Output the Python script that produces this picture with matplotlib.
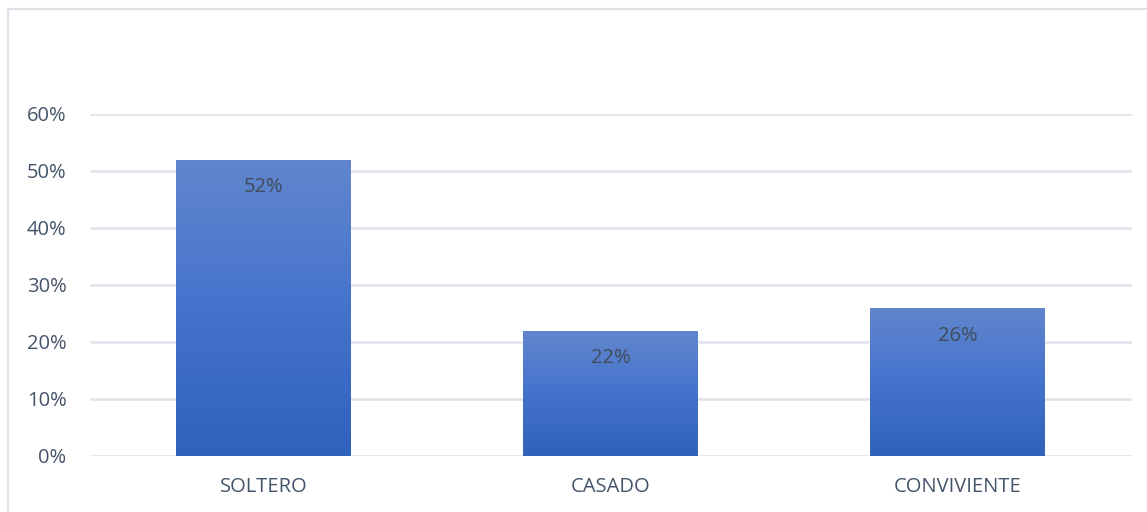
import numpy as np
import matplotlib
matplotlib.use("Agg")
import matplotlib.pyplot as plt
from matplotlib.colors import LinearSegmentedColormap
from matplotlib.patches import Rectangle

plt.rcParams['font.family'] = ['Open Sans', 'DejaVu Sans']

categories = ["SOLTERO", "CASADO", "CONVIVIENTE"]
values = [0.52, 0.22, 0.26]
labels = ["52%", "22%", "26%"]
yticks = [0.0, 0.1, 0.2, 0.3, 0.4, 0.5, 0.6]
ytick_labels = ["0%", "10%", "20%", "30%", "40%", "50%", "60%"]

text_color = "#44546a"
grid_color = "#dfe3ea"

fig = plt.figure(figsize=(11.47, 5.12), dpi=100)
fig.patches.append(Rectangle((8 / 1147, -0.1), 1.2, (512 - 9) / 512 + 0.1,
                             transform=fig.transFigure, fill=False,
                             edgecolor="#dde1e7", linewidth=1.5))
ax = fig.add_axes([0.0785, 0.1094, 0.908, 0.668])

x = np.arange(len(categories))
bars = ax.bar(x, values, width=0.504, color="none", zorder=3)

cmap = LinearSegmentedColormap.from_list("grad", ["#2f62bb", "#4573cc", "#6186cd"])
grad = np.linspace(0, 1, 256).reshape(-1, 1)
for b in bars:
    x0, w, h = b.get_x(), b.get_width(), b.get_height()
    im = ax.imshow(grad, cmap=cmap, aspect="auto", origin="lower",
                   extent=[x0, x0 + w, 0, h], zorder=3)
    im.set_clip_path(b)

for xi, v, lab in zip(x, values, labels):
    ax.annotate(lab, (xi, v), xytext=(0, -20), textcoords="offset points",
                ha="center", va="center", fontsize=14.5, color="#414b5b", zorder=4)

ax.set_xlim(-0.5, len(categories) - 0.5)
ax.set_ylim(0, 0.6)
ax.set_yticks(yticks)
ax.set_yticklabels(ytick_labels)
ax.set_xticks(x)
ax.set_xticklabels(categories)
ax.tick_params(axis="both", length=0, labelsize=14.5, colors=text_color)
ax.tick_params(axis="x", pad=15)
ax.tick_params(axis="y", pad=17)
ax.grid(axis="y", color=grid_color, linewidth=1.8, zorder=0)
for s in ax.spines.values():
    s.set_visible(False)

fig.savefig("out.png", dpi=100)
